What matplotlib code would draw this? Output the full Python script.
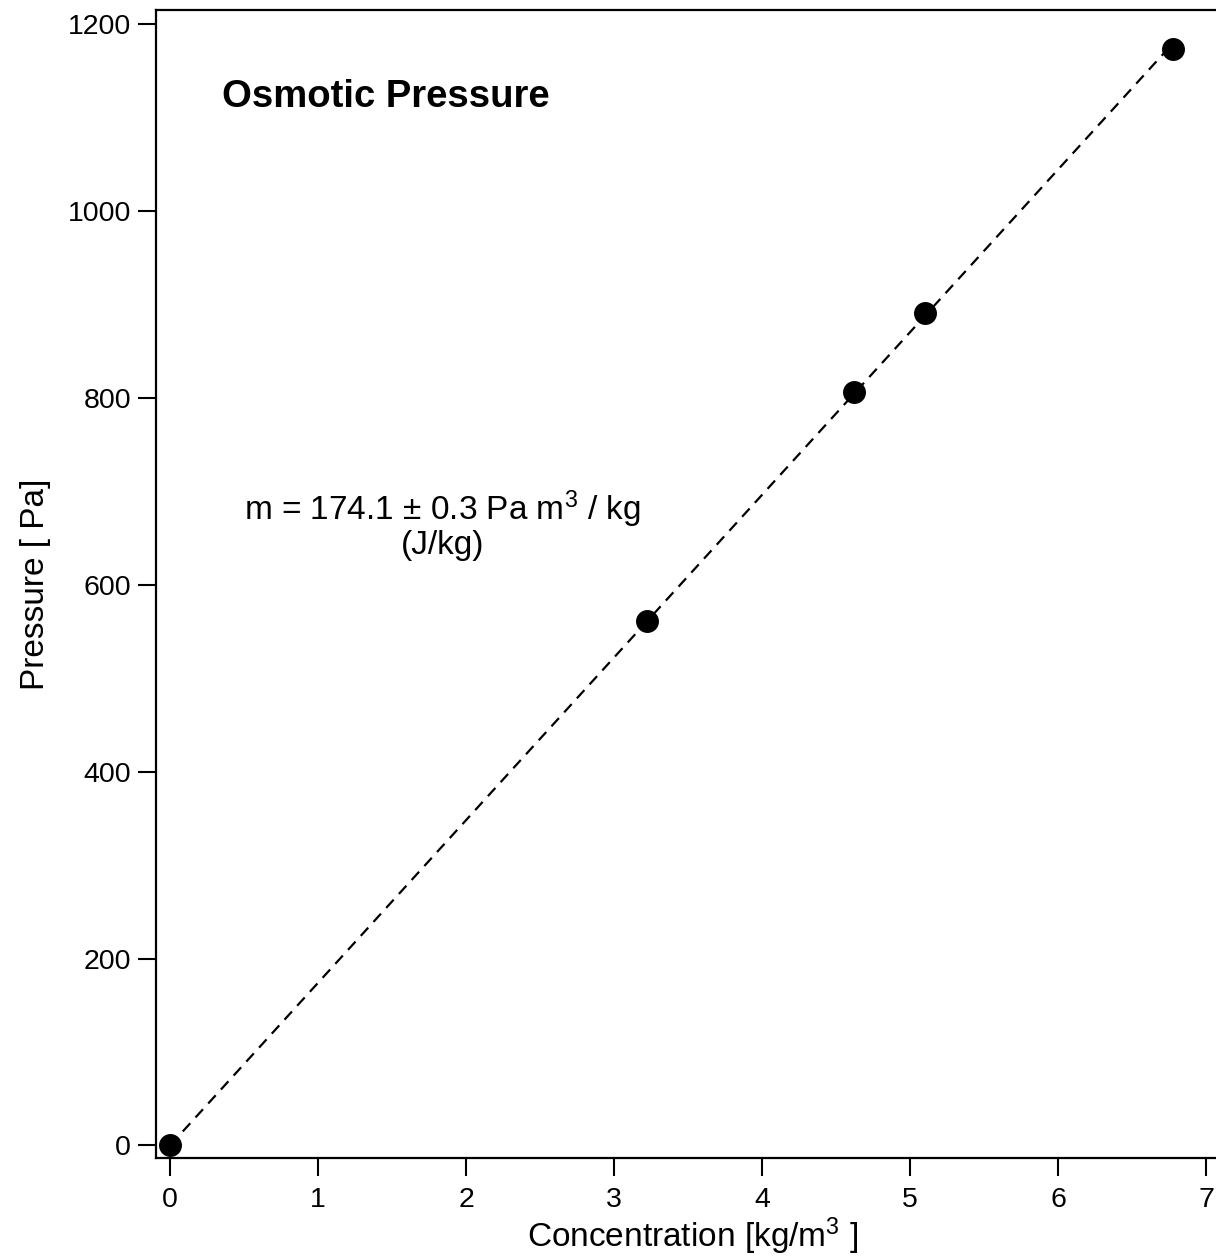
import matplotlib
matplotlib.use("Agg")
import matplotlib.pyplot as plt
import numpy as np

plt.rcParams['font.family'] = ['Liberation Sans', 'DejaVu Sans']
plt.rcParams['mathtext.fontset'] = 'custom'
plt.rcParams['mathtext.rm'] = 'Liberation Sans'
plt.rcParams['mathtext.it'] = 'Liberation Sans'

# Data
concentration = [0.0, 3.22, 4.62, 5.10, 6.775]
pressure = [0.0, 561, 807, 891, 1174]
slope = 174.1
fit_x = [0.0, 6.775]

x_ticks = [0, 1, 2, 3, 4, 5, 6, 7]
y_ticks = [0, 200, 400, 600, 800, 1000, 1200]

fig = plt.figure(figsize=(12.16, 12.59), dpi=100)
ax = fig.add_axes([0.1283, 0.0802, 0.8717 + 0.01, 0.9115])

fx = np.array(fit_x)
ax.plot(fx, slope * fx, color='black', lw=1.6, dashes=(5, 3.5))
ax.plot(concentration, pressure, 'o', color='black', markersize=15.5)

ax.set_xlim(-0.095, 7.15)
ax.set_ylim(-13.5, 1215)
ax.set_xticks(x_ticks)
ax.set_yticks(y_ticks)
ax.tick_params(direction='out', length=13, width=1.5, labelsize=20.5, pad=5, colors='black')
ax.tick_params(axis='x', pad=8)
for s in ax.spines.values():
    s.set_linewidth(1.6)

ax.set_xlabel('Concentration [kg/m$^3$ ]', fontsize=24, labelpad=2)
ax.set_ylabel('Pressure [ Pa]', fontsize=24, labelpad=12)

ax.text(0.352, 1122, 'Osmotic Pressure', fontsize=27.5, fontweight='bold', va='center', ha='left')
ax.text(1.84, 664, 'm = 174.1 ± 0.3 Pa m$^3$ / kg\n(J/kg)', fontsize=24,
        ha='center', va='center', linespacing=1.0, multialignment='center')

fig.savefig('out.png', dpi=100)
